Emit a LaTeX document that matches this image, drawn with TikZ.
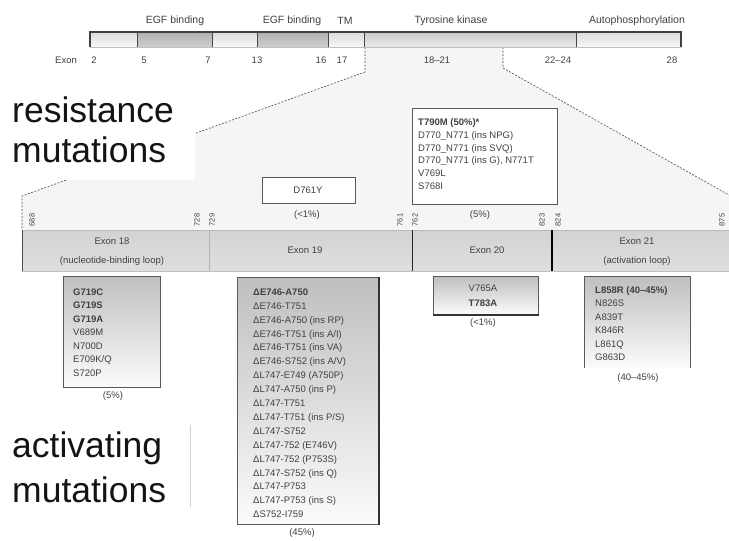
\documentclass[tikz,border=0pt]{standalone}
\usepackage{fontspec}
\setmainfont{Liberation Sans}
\begin{document}
\begin{tikzpicture}[x=1pt,y=-1pt,
  lbl/.style={font=\fontsize{9.5}{11}\selectfont, text=black!75, inner sep=0pt},
  toplbl/.style={font=\fontsize{10.5}{12}\selectfont, text=black!75, inner sep=0pt},
  numlbl/.style={font=\fontsize{7.5}{8}\selectfont, text=black!75, inner sep=0pt, rotate=90},
  mtext/.style={font=\fontsize{9.5}{#1}\selectfont, align=left, text=black!75, inner sep=0pt, anchor=north west},
  mbox/.style={draw=gray!70!black, line width=0.9pt, top color=gray!50, bottom color=gray!3, anchor=north west, inner sep=0pt},
  rbox/.style={draw=gray!70!black, line width=0.8pt, fill=white, anchor=north west, inner sep=0pt},
  bigtxt/.style={font=\fontsize{35.5}{40}\selectfont, text=black!92, anchor=base west, inner sep=0pt},
  zoomedge/.style={draw=gray!60!black, line width=0.6pt, dash pattern=on 2pt off 1.5pt}
]
\useasboundingbox (0,0) rectangle (729,541);

% zoomed region
\fill[gray!8] (365,47) -- (365,72) -- (22,196) -- (22,230) -- (729,230) -- (729,195) -- (503,68) -- (503,47) -- cycle;
\draw[zoomedge] (365,47) -- (365,72) -- (22,196) -- (22,230);
\draw[zoomedge] (503,47) -- (503,68) -- (729,195);
\fill[white] (0,85) rectangle (195,180);

% top protein bar
\shade[top color=gray!28, bottom color=gray!5] (90,32) rectangle (681,47);
\shade[top color=gray!62, bottom color=gray!38] (137,32) rectangle (212,47);
\shade[top color=gray!62, bottom color=gray!38] (257,32) rectangle (328,47);
\shade[top color=gray!42, bottom color=gray!16] (364,32) rectangle (576,47);
\draw[gray!55!black, line width=0.5pt] (137,32) -- (137,47) (212,32) -- (212,47) (257,32) -- (257,47) (328,32) -- (328,47) (364,32) -- (364,47) (576,32) -- (576,47);
\draw[gray!50, line width=0.4pt] (90,47) -- (681,47);
\draw[gray!50!black, line width=1.1pt] (90,47) -- (90,32) -- (681,32) -- (681,47);

\node[toplbl] (d1) at (175,21) {EGF binding};
\node[toplbl] (d2) at (292,21) {EGF binding};
\node[toplbl] (d3) at (345,21) {TM};
\node[toplbl] (d4) at (451,21) {Tyrosine kinase};
\node[toplbl] (d5) at (637,21) {Autophosphorylation};

\node[lbl] (x0) at (66,60) {Exon};
\node[lbl] (x1) at (94,60) {2};
\node[lbl] (x2) at (144,60) {5};
\node[lbl] (x3) at (208,60) {7};
\node[lbl] (x4) at (257,60) {13};
\node[lbl] (x5) at (321,60) {16};
\node[lbl] (x6) at (342,60) {17};
\node[lbl] (x7) at (437,60) {18–21};
\node[lbl] (x8) at (558,60) {22–24};
\node[lbl] (x9) at (672,60) {28};

% exon bar
\shade[top color=gray!35, middle color=gray!6, bottom color=gray!25] (22,230) rectangle (729,271);
\draw[gray!55, line width=0.8pt] (22,230) -- (729,230);
\draw[gray!50, line width=0.6pt] (22,271) -- (729,271);
\draw[gray!60!black, line width=0.6pt] (22,230) -- (22,271);
\draw[gray!60, line width=0.5pt] (209,230) -- (209,271);
\draw[gray!30!black, line width=1pt] (412,230) -- (412,271);
\draw[black, line width=1.6pt] (552,230) -- (552,271);

\node[lbl, align=center, font=\fontsize{9.5}{19}\selectfont] (e18) at (112,252) {Exon 18\\(nucleotide-binding loop)};
\node[lbl] (e19) at (305,250) {Exon 19};
\node[lbl] (e20) at (487,250) {Exon 20};
\node[lbl, align=center, font=\fontsize{9.5}{19}\selectfont] (e21) at (637,252) {Exon 21\\(activation loop)};

\node[numlbl] (n1) at (32,220) {688};
\node[numlbl] (n2) at (197,220) {728};
\node[numlbl] (n3) at (212,220) {729};
\node[numlbl] (n4) at (400,220) {761};
\node[numlbl] (n5) at (415,220) {762};
\node[numlbl] (n6) at (542,220) {823};
\node[numlbl] (n7) at (558,220) {824};
\node[numlbl] (n8) at (722,220) {875};

% resistance boxes
\node[rbox, minimum width=93pt, minimum height=26pt] (rb19) at (262,177) {};
\node[lbl] (rt19) at (308,190) {D761Y};
\node[lbl] (rp19) at (307,215) {(<1\%)};

\node[rbox, minimum width=145pt, minimum height=96pt] (rb20) at (412,108) {};
\node[mtext=12.8] (rt20) at (418,118.5) {\textbf{T790M (50\%)*}\\D770\_N771 (ins NPG)\\D770\_N771 (ins SVQ)\\D770\_N771 (ins G), N771T\\V769L\\S768I};
\node[lbl] (rp20) at (480,215) {(5\%)};

% activating boxes
\node[mbox, minimum width=97pt, minimum height=111pt] (ab18) at (63,276) {};
\node[mtext=13.5] (at18) at (73,288.5) {\textbf{G719C}\\\textbf{G719S}\\\textbf{G719A}\\V689M\\N700D\\E709K/Q\\S720P};
\node[lbl] (ap18) at (113,396) {(5\%)};

\node[mbox, minimum width=141pt, minimum height=247pt] (ab19) at (237,277) {};
\draw[gray!40!black, line width=1.2pt] (ab19.north east) -- (ab19.south east);
\node[mtext=13.9] (at19) at (253,288.5) {\textbf{ΔE746-A750}\\ΔE746-T751\\ΔE746-A750 (ins RP)\\ΔE746-T751 (ins A/I)\\ΔE746-T751 (ins VA)\\ΔE746-S752 (ins A/V)\\ΔL747-E749 (A750P)\\ΔL747-A750 (ins P)\\ΔL747-T751\\ΔL747-T751 (ins P/S)\\ΔL747-S752\\ΔL747-752 (E746V)\\ΔL747-752 (P753S)\\ΔL747-S752 (ins Q)\\ΔL747-P753\\ΔL747-P753 (ins S)\\ΔS752-I759};
\node[lbl] (ap19) at (302,533) {(45\%)};

\node[mbox, minimum width=105pt, minimum height=38pt] (ab20) at (433,276) {};
\draw[gray!40!black, line width=1.5pt] (ab20.south west) -- (ab20.south east);
\node[lbl, align=center, font=\fontsize{9.5}{15}\selectfont] (at20) at (483,296) {V765A\\\textbf{T783A}};
\node[lbl] (ap20) at (483,323) {(<1\%)};

\node[mbox, draw=none, minimum width=106pt, minimum height=91pt] (ab21) at (584,276) {};
\draw[gray!70!black, line width=0.9pt] (ab21.south west) -- (ab21.north west) -- (ab21.north east) -- (ab21.south east);
\node[mtext=13.4] (at21) at (595,286.5) {\textbf{L858R (40–45\%)}\\N826S\\A839T\\K846R\\L861Q\\G863D};
\node[lbl] (ap21) at (638,378) {(40–45\%)};

% side captions
\node[bigtxt] (r1) at (12,122) {resistance};
\node[bigtxt] (r2) at (12,162) {mutations};
\node[bigtxt] (a1) at (12,457) {activating};
\node[bigtxt] (a2) at (12,502) {mutations};
\draw[gray!35, line width=1pt] (190,425) -- (190,507);
\end{tikzpicture}
\end{document}
